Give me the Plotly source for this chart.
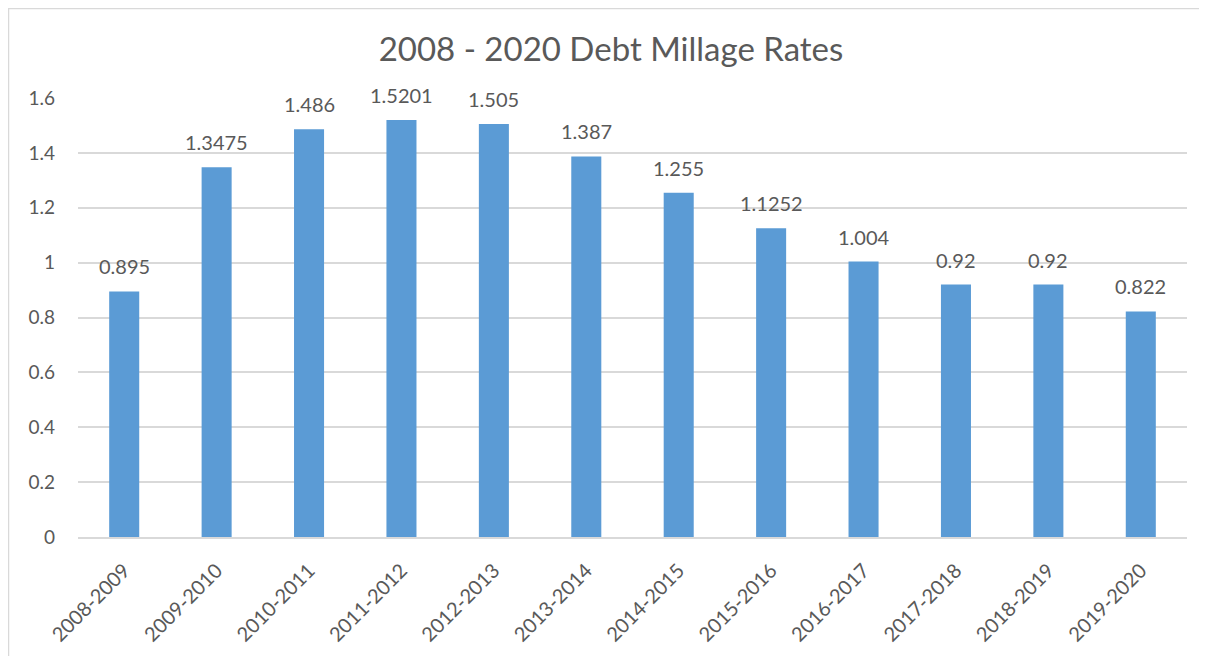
import plotly.graph_objects as go

categories = ["2008-2009", "2009-2010", "2010-2011", "2011-2012", "2012-2013", "2013-2014",
              "2014-2015", "2015-2016", "2016-2017", "2017-2018", "2018-2019", "2019-2020"]
rates = [0.895, 1.3475, 1.486, 1.5201, 1.505, 1.387, 1.255, 1.1252, 1.004, 0.92, 0.92, 0.822]
rate_labels = ["0.895", "1.3475", "1.486", "1.5201", "1.505", "1.387", "1.255", "1.1252",
               "1.004", "0.92", "0.92", "0.822"]
y_ticks = [0, 0.2, 0.4, 0.6, 0.8, 1.0, 1.2, 1.4, 1.6]
y_tick_text = ["0", "0.2", "0.4", "0.6", "0.8", "1", "1.2", "1.4", "1.6"]

FONT = "Lato, Carlito, Calibri, sans-serif"
GRAY = "#595959"

fig = go.Figure(go.Bar(
    x=categories, y=rates,
    marker=dict(color="#5B9BD5", line=dict(width=0)),
    hoverinfo="x+y",
))

# page is offset by the 8px body margin
OFF = 8
W, H = 1207 - OFF, 656 - OFF
ml, mr, mt, mb = 78 - OFF, 20, 98 - OFF, 656 - 537
pw, ph = W - ml - mr, H - mt - mb

annotations = [
    dict(x=c, y=v, text=t, xref="x", yref="y", showarrow=False,
         yanchor="middle", yshift=25,
         font=dict(family=FONT, size=20, color=GRAY))
    for c, v, t in zip(categories, rates, rate_labels)
]

fig.update_layout(
    width=W, height=H,
    margin=dict(l=ml, r=mr, t=mt, b=mb),
    paper_bgcolor="white", plot_bgcolor="white",
    bargap=0.675,
    showlegend=False,
    title=dict(text="2008 - 2020 Debt Millage Rates", xref="container",
               x=(611 - OFF) / W, xanchor="center",
               y=1 - (49 - OFF) / H, yanchor="middle",
               font=dict(family=FONT, size=33, color=GRAY)),
    font=dict(family=FONT, color=GRAY),
    xaxis=dict(tickangle=-45, tickfont=dict(family=FONT, size=20, color=GRAY),
               showgrid=False, showline=True, linecolor="#D9D9D9", linewidth=2,
               ticks="", automargin=False, ticklabelstandoff=12),
    yaxis=dict(range=[0, 1.6], tickvals=y_ticks, ticktext=y_tick_text,
               tickfont=dict(family=FONT, size=19, color=GRAY),
               showgrid=True, gridcolor="#D9D9D9", gridwidth=2,
               zeroline=False, showline=False, ticks="", ticklabelstandoff=22,
               automargin=False),
    annotations=annotations,
    shapes=[dict(type="rect", xref="paper", yref="paper",
                 x0=(0.5 - ml) / pw, x1=(W + 10 - ml) / pw,
                 y0=(H - mb - H - 10) / ph, y1=(H - mb - 0.5) / ph,
                 line=dict(color="#D9D9D9", width=1.5), fillcolor="rgba(0,0,0,0)",
                 layer="below")],
)

fig.write_html("out.html")
